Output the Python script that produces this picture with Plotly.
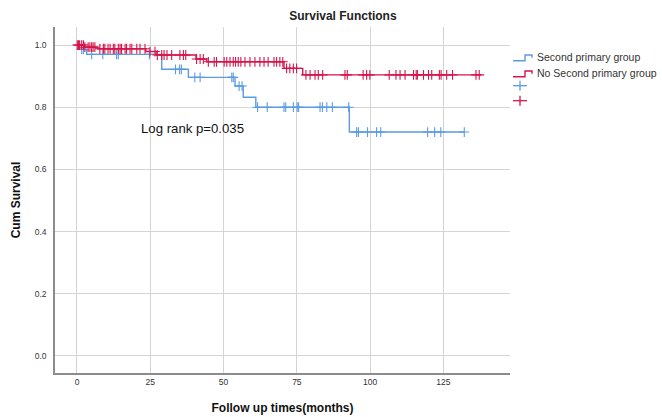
import numpy as np
import plotly.graph_objects as go

# ---------------- data ----------------
group_names = ["Second primary group", "No Second primary group"]

# Second primary group (blue): step times and survival values
blue_times = [0, 0.8, 3.3, 28.9, 38.0, 53.9, 56.7, 61.0, 92.9]
blue_surv = [1.0, 0.986, 0.970, 0.922, 0.896, 0.868, 0.832, 0.800, 0.720]
blue_end = 132.1
blue_censor = [1.6, 2.2, 5.0, 8.8, 13.5, 14.1, 24.7,
               33.6, 35.0, 35.6,
               40.2, 42.0, 52.8, 53.3,
               55.3, 56.3,
               61.6, 64.9, 70.6, 71.2, 73.8, 75.1, 75.6, 82.9, 83.7, 85.2, 87.1, 92.7,
               95.4, 96.0, 99.1, 102.2, 103.6, 119.6, 122.0, 124.1, 132.1]

# No second primary group (red)
red_times = [0, 2.5, 7.0, 23.5, 27.0, 40.6, 44.2, 70.6, 77.0]
red_surv = [1.0, 0.993, 0.988, 0.979, 0.968, 0.955, 0.946, 0.925, 0.904]
red_end = 138.0
red_censor = [0.1, 0.5, 0.9, 1.6, 2.2, 2.7, 3.8, 4.4, 5.0, 5.5, 6.1, 7.8, 9.0, 9.5,
              10.6, 11.3, 12.4, 12.9, 14.1, 14.7, 15.2, 16.4, 16.9, 18.1, 18.7, 20.4,
              21.5, 23.2, 24.9, 26.6, 27.4, 28.9, 29.7,
              30.7, 32.3, 35.1, 36.3, 37.1,
              40.8, 42.0, 43.1,
              44.8, 46.8, 47.6, 50.2, 51.1, 52.2, 53.3, 54.1, 55.0, 55.9, 57.3, 59.0,
              60.7, 62.4, 63.8, 65.2, 67.2, 68.1, 69.2, 70.2,
              71.5, 72.6, 73.8, 74.9,
              78.1, 79.5, 81.2, 82.3, 83.8, 91.4, 92.2, 97.6, 98.8, 99.9, 106.5, 108.8,
              110.2, 111.9, 114.8, 115.7, 116.1, 118.2, 119.9, 121.0, 123.6, 124.2,
              126.1, 128.1, 136.1, 137.2]

x_ticks = [0, 25, 50, 75, 100, 125]
y_ticks = [0.0, 0.2, 0.4, 0.6, 0.8, 1.0]

BLUE = "#5b9be0"
RED = "#d6154b"
FONT = "Liberation Sans, Arial, sans-serif"

W, H = 662, 417
ML, MR, MT, MB = 55, 152, 27, 44


def step_value(t_list, times, surv):
    idx = np.searchsorted(np.array(times), np.array(t_list), side="right") - 1
    return [surv[i] for i in idx]


def px(xp):
    return (xp - ML) / (W - ML - MR)


def py(yp):
    return (H - MB - yp) / (H - MT - MB)


fig = go.Figure()

for name, times, surv, end, color in [
    (group_names[0], blue_times, blue_surv, blue_end, BLUE),
    (group_names[1], red_times, red_surv, red_end, RED),
]:
    fig.add_trace(go.Scatter(
        x=list(times) + [end], y=list(surv) + [surv[-1]],
        mode="lines", line=dict(color=color, width=1.4, shape="hv"),
        name=name, hoverinfo="skip"))

for cens, times, surv, color, name in [
    (blue_censor, blue_times, blue_surv, BLUE, group_names[0] + " censored"),
    (red_censor, red_times, red_surv, RED, group_names[1] + " censored"),
]:
    fig.add_trace(go.Scatter(
        x=cens, y=step_value(cens, times, surv),
        mode="markers",
        marker=dict(symbol="cross-thin", size=7, color=color,
                    line=dict(color=color, width=1.1)),
        name=name))

# ---- manual legend (SPSS style) ----
shapes = []
annotations = []
row_y = [57.3, 73.3]
for i, (name, color) in enumerate(zip(group_names, [BLUE, RED])):
    yc = row_y[i]
    path = (f"M {px(513)} {py(yc + 3.4)} L {px(525)} {py(yc + 3.4)} "
            f"L {px(525)} {py(yc - 2.3)} L {px(532)} {py(yc - 2.3)} "
            f"L {px(532)} {py(yc + 0.5)}")
    shapes.append(dict(type="path", xref="paper", yref="paper", path=path,
                       line=dict(color=color, width=1.4)))
    annotations.append(dict(x=px(535), y=py(yc), xref="paper", yref="paper",
                            xanchor="left", yanchor="middle", text=name,
                            showarrow=False,
                            font=dict(family=FONT, size=10.5, color="#333333")))
for yc, color in [(85.7, BLUE), (100.7, RED)]:
    shapes.append(dict(type="line", xref="paper", yref="paper",
                       x0=px(513), x1=px(527), y0=py(yc), y1=py(yc),
                       line=dict(color=color, width=1.3)))
    shapes.append(dict(type="line", xref="paper", yref="paper",
                       x0=px(520), x1=px(520), y0=py(yc - 5), y1=py(yc + 5),
                       line=dict(color=color, width=1.3)))

annotations.append(dict(x=21.0, y=0.732, xref="x", yref="y", xanchor="left",
                        yanchor="middle", text="Log rank p=0.035", showarrow=False,
                        font=dict(family=FONT, size=13.2, color="#111111")))

axis_common = dict(
    showgrid=True, gridcolor="#d4d4d4", gridwidth=1,
    zeroline=False, showline=True, linecolor="#8c8c8c", linewidth=1.5,
    ticks="", tickfont=dict(family=FONT, size=8.5, color="#333333"),
)

fig.update_layout(
    width=W, height=H,
    margin=dict(l=ML, r=MR, t=MT, b=MB, autoexpand=False),
    paper_bgcolor="white", plot_bgcolor="white",
    font=dict(family=FONT, color="#222222"),
    showlegend=False,
    title=dict(text="<b>Survival Functions</b>", x=0.518, xref="container",
               xanchor="center", y=0.962, yref="container", yanchor="middle",
               font=dict(family=FONT, size=12, color="#222222")),
    xaxis=dict(range=[-7.5, 147.7], tickvals=x_ticks,
               title=dict(text="<b>Follow up times(months)</b>", standoff=18,
                          font=dict(family=FONT, size=12, color="#111111")),
               automargin=False, **axis_common),
    yaxis=dict(range=[-0.055, 1.058], tickvals=y_ticks, tickformat=".1f",
               ticklabelstandoff=5,
               title=dict(text="<b>Cum Survival</b>", standoff=12,
                          font=dict(family=FONT, size=12, color="#111111")),
               automargin=False, **axis_common),
    shapes=shapes,
    annotations=annotations,
)

fig.write_html("out.html", config={"displayModeBar": False},
               post_script="document.body.style.margin='0';")
